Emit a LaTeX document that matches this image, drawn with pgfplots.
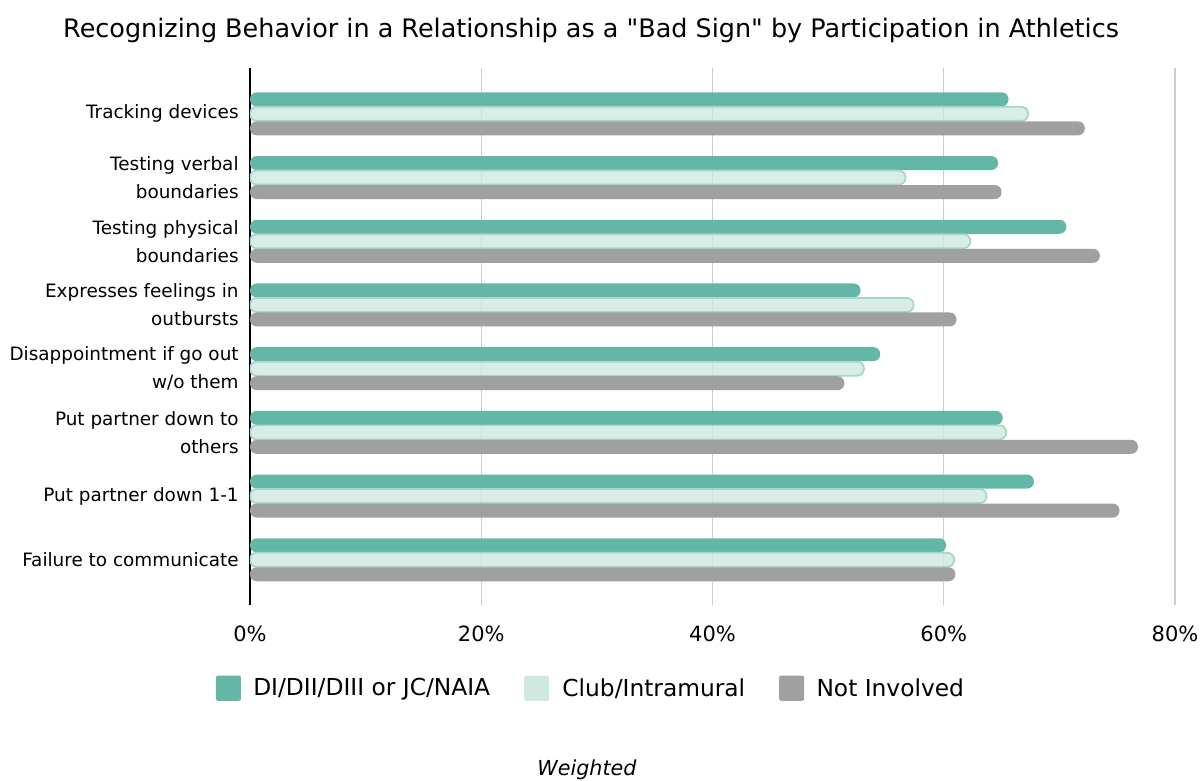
\documentclass[border=0pt]{standalone}
\usepackage{pgfplots}
\pgfplotsset{compat=1.18}
\usepackage{fontspec}
\setmainfont{DejaVu Sans}[Ligatures=TeXOff]
\definecolor{diC}{HTML}{64B7A7}
\definecolor{clubC}{HTML}{CFE8E2}
\definecolor{clubB}{HTML}{A6D6CB}
\definecolor{notC}{HTML}{A0A0A0}
\definecolor{gridC}{HTML}{CCCCCC}
\begin{document}
\begin{tikzpicture}[x=0.75pt,y=0.75pt]
\path[use as bounding box] (-250,-176) rectangle (954,605);
\begin{axis}[
  at={(0,0)}, anchor=south west,
  scale only axis, width=693.75pt, height=402.75pt,
  xbar, bar width=10.5pt,
  xmin=3, xmax=83,
  x filter/.expression={x+3},
  ymin=-0.71, ymax=7.72,
  xtick={3,23,43,63,83},
  xticklabels={0\%,20\%,40\%,60\%,80\%},
  ytick={0,1,2,3,4,5,6,7},
  yticklabels={{Failure to communicate},{Put partner down 1-1},{Put partner down to\\others},{Disappointment if go out\\w/o them},{Expresses feelings in\\outbursts},{Testing physical\\boundaries},{Testing verbal\\boundaries},{Tracking devices}},
  axis lines*=left,
  x axis line style={draw=none},
  y axis line style={black, line width=1.5pt},
  major tick length=0pt,
  xmajorgrids, grid style={gridC, line width=1.1pt},
  xticklabel style={font=\fontsize{15.75pt}{18pt}\selectfont, yshift=-12pt},
  yticklabel style={font=\fontsize{13.8pt}{21pt}\selectfont, align=right, xshift=-5pt},
  legend columns=3,
  legend style={at={(axis description cs:0.369,-0.155)}, anchor=center, draw=none,
    font=\fontsize{17.5pt}{20pt}\selectfont,
    /tikz/every even column/.append style={column sep=23.5pt}},
  legend image code/.code={\path[#1, draw=none, fill opacity=1, rounded corners=1.5pt] (0pt,-9.4pt) rectangle (18.75pt,9.4pt); \path (26pt,0pt);},
  clip=true,
]
\addplot[bar shift=10.875pt, fill=diC, draw=none, rounded corners=5pt] coordinates {
(65.6,7) (64.7,6) (70.6,5) (52.8,4) (54.5,3) (65.1,2) (67.8,1) (60.2,0)};
\addplot[bar shift=0pt, fill=clubC, draw=clubB, line width=1.3pt, fill opacity=0.8, rounded corners=5pt] coordinates {
(67.3,7) (56.7,6) (62.3,5) (57.4,4) (53.1,3) (65.4,2) (63.7,1) (60.9,0)};
\addplot[bar shift=-10.875pt, fill=notC, draw=none, rounded corners=5pt] coordinates {
(72.2,7) (65.0,6) (73.5,5) (61.1,4) (51.4,3) (76.8,2) (75.2,1) (61.0,0)};
\legend{DI/DII/DIII or JC/NAIA, Club/Intramural, Not Involved}
\end{axis}
\node[font=\fontsize{19.1pt}{22pt}\selectfont] at (341,575) {Recognizing Behavior in a Relationship as a "Bad Sign" by Participation in Athletics};
\node[font=\fontsize{15.5pt}{18pt}\selectfont\itshape] at (337,-165) {Weighted};
\end{tikzpicture}
\end{document}
